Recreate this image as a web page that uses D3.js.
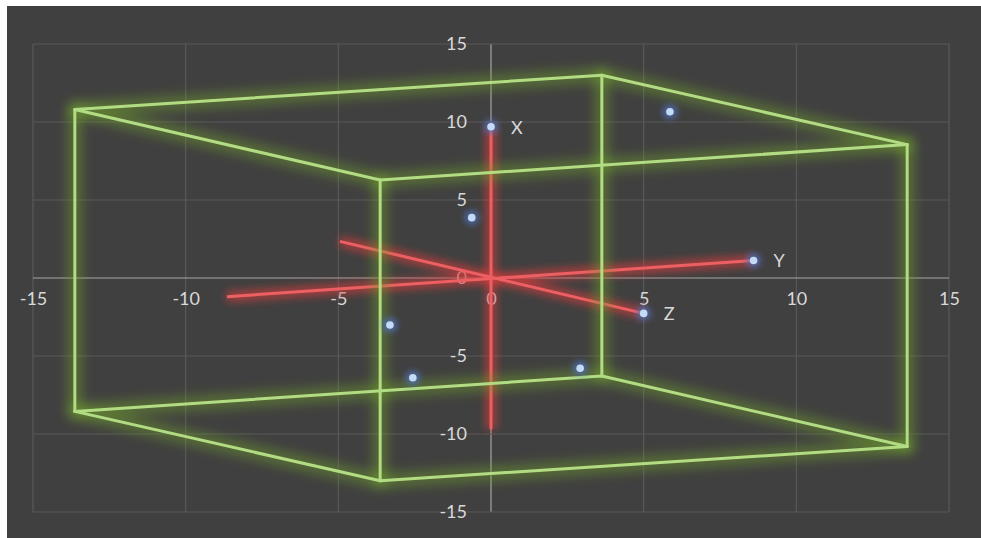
<!DOCTYPE html>
<html>
<head>
<meta charset="utf-8">
<script src="https://cdn.jsdelivr.net/npm/d3@7"></script>
<style>
  html, body { margin: 0; padding: 0; background: #ffffff; }
  svg { display: block; }
</style>
</head>
<body>
<svg id="chart" width="981" height="538"></svg>
<script>
// Axis ticks
const xTicks = [-15, -10, -5, 0, 5, 10, 15];
const yTicks = [-15, -10, -5, 0, 5, 10, 15];

// Projected corners of the bounding cube
const cornerX = [-13.63, 3.63, 13.63, -3.63, -13.63, -3.63, 13.63, 3.63];
const cornerY = [10.8, 13.0, 8.55, 6.28, -8.55, -13.0, -10.8, -6.28];
// Cube edges as pairs of corner indices
const cubeEdges = [[0,1],[1,2],[2,3],[3,0],[4,5],[5,6],[6,7],[7,4],[0,4],[1,7],[2,6],[3,5]];

// Projected coordinate axes (start and end points)
const axisNames = ["X", "Y", "Z"];
const axisStartX = [0, -8.65, -4.95];
const axisStartY = [-9.7, -1.2, 2.35];
const axisEndX = [0, 8.6, 5.0];
const axisEndY = [9.7, 1.12, -2.27];

// Projected points
const pointX = [0, 8.6, 5.0, 5.86, -0.63, -3.31, -2.56, 2.92];
const pointY = [9.7, 1.12, -2.27, 10.66, 3.87, -3.01, -6.39, -5.79];

const svg = d3.select("#chart");
const W = 981, H = 538;

// Chart area background
svg.append("rect")
  .attr("x", 7).attr("y", 6)
  .attr("width", W - 7).attr("height", H - 6)
  .attr("fill", "#404040");

const x = d3.scaleLinear().domain([-15, 15]).range([33, 949]);
const y = d3.scaleLinear().domain([-15, 15]).range([512, 44]);

const defs = svg.append("defs");
function blur(id, sd) {
  defs.append("filter").attr("id", id)
    .attr("filterUnits", "userSpaceOnUse")
    .attr("x", 0).attr("y", 0).attr("width", W).attr("height", H)
    .append("feGaussianBlur").attr("stdDeviation", sd);
}
blur("glowG", 6);
blur("glowR", 4.5);
blur("glowB", 3);

// Gridlines
const grid = svg.append("g");
grid.selectAll("line.v").data(xTicks).join("line")
  .attr("x1", d => x(d)).attr("x2", d => x(d))
  .attr("y1", y(15)).attr("y2", y(-15))
  .attr("stroke", d => d === 0 ? "#a6a6a6" : "#595959")
  .attr("stroke-width", 1.2);
grid.selectAll("line.h").data(yTicks).join("line")
  .attr("y1", d => y(d)).attr("y2", d => y(d))
  .attr("x1", x(-15)).attr("x2", x(15))
  .attr("stroke", d => d === 0 ? "#a6a6a6" : "#595959")
  .attr("stroke-width", 1.2);

// Tick labels via d3 axes
const fontFamily = "Lato, 'Open Sans', sans-serif";
const fmt = d => String(d);
const xAxis = svg.append("g")
  .attr("transform", `translate(0,${y(0)})`)
  .call(d3.axisBottom(x).tickValues(xTicks).tickFormat(fmt).tickSize(0).tickPadding(22));
const yAxis = svg.append("g")
  .attr("transform", `translate(${x(0)},0)`)
  .call(d3.axisLeft(y).tickValues(yTicks).tickFormat(fmt).tickSize(0).tickPadding(24));
[xAxis, yAxis].forEach(g => {
  g.select(".domain").remove();
  g.selectAll("text")
    .attr("fill", "#d9d9d9")
    .style("font-family", fontFamily)
    .style("font-size", "18px");
});
xAxis.selectAll("text").attr("dy", "0.3em");
yAxis.selectAll("text").attr("dy", "0.3em");

// Red coordinate axes
const axisData = axisNames.map((n, i) => ({
  name: n, x1: axisStartX[i], y1: axisStartY[i], x2: axisEndX[i], y2: axisEndY[i]
}));
const red = svg.append("g");
red.append("g").attr("filter", "url(#glowR)")
  .selectAll("line").data(axisData).join("line")
  .attr("x1", d => x(d.x1)).attr("y1", d => y(d.y1))
  .attr("x2", d => x(d.x2)).attr("y2", d => y(d.y2))
  .attr("stroke", "#d83c3c").attr("stroke-opacity", 0.7)
  .attr("stroke-width", 10);
red.append("g")
  .selectAll("line").data(axisData).join("line")
  .attr("x1", d => x(d.x1)).attr("y1", d => y(d.y1))
  .attr("x2", d => x(d.x2)).attr("y2", d => y(d.y2))
  .attr("stroke", "#ec5f63")
  .attr("stroke-width", 3);

// Green cube
const edgeData = cubeEdges.map(([a, b]) => ({
  x1: cornerX[a], y1: cornerY[a], x2: cornerX[b], y2: cornerY[b]
}));
const green = svg.append("g");
green.append("g").attr("filter", "url(#glowG)")
  .selectAll("line").data(edgeData).join("line")
  .attr("x1", d => x(d.x1)).attr("y1", d => y(d.y1))
  .attr("x2", d => x(d.x2)).attr("y2", d => y(d.y2))
  .attr("stroke", "#6f9f2e").attr("stroke-opacity", 0.5)
  .attr("stroke-width", 14).attr("stroke-linecap", "round");
green.append("g")
  .selectAll("line").data(edgeData).join("line")
  .attr("x1", d => x(d.x1)).attr("y1", d => y(d.y1))
  .attr("x2", d => x(d.x2)).attr("y2", d => y(d.y2))
  .attr("stroke", "#b2dc84")
  .attr("stroke-width", 3).attr("stroke-linecap", "round");

// Points
const pts = pointX.map((px, i) => ({ x: px, y: pointY[i] }));
const pg = svg.append("g");
pg.append("g").attr("filter", "url(#glowB)")
  .selectAll("circle").data(pts).join("circle")
  .attr("cx", d => x(d.x)).attr("cy", d => y(d.y)).attr("r", 7)
  .attr("fill", "#4f74c4").attr("fill-opacity", 0.8);
pg.append("g")
  .selectAll("circle").data(pts).join("circle")
  .attr("cx", d => x(d.x)).attr("cy", d => y(d.y)).attr("r", 3.8)
  .attr("fill", "#c3dbf4");

// Axis name labels beside their end points
svg.append("g")
  .selectAll("text").data(axisData).join("text")
  .attr("x", d => x(d.x2) + 20).attr("y", d => y(d.y2))
  .attr("dy", "0.38em")
  .attr("fill", "#d9d9d9")
  .style("font-family", fontFamily)
  .style("font-size", "18px")
  .text(d => d.name);
</script>
</body>
</html>
